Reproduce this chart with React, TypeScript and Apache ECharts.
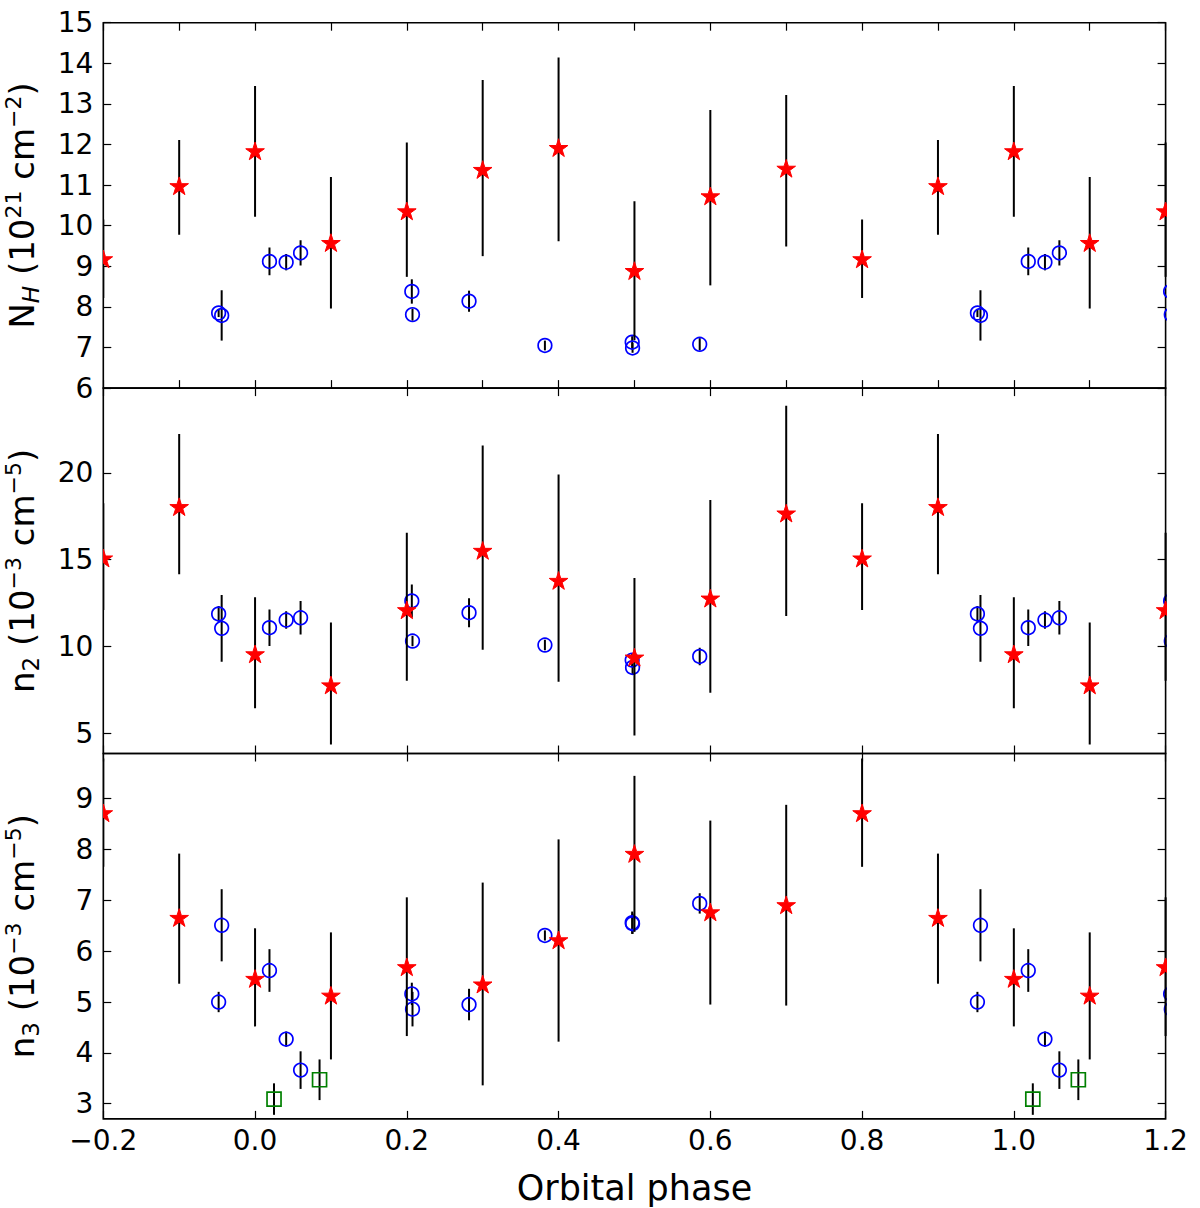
import React, { useEffect, useRef } from "react";
import * as echarts from "echarts";

// ---------- axis ticks ----------
const X_TICKS_FINE = [-0.2, -0.1, 0, 0.1, 0.2, 0.3, 0.4, 0.5, 0.6, 0.7, 0.8, 0.9, 1.0, 1.1, 1.2];
const X_TICKS = [-0.2, 0, 0.2, 0.4, 0.6, 0.8, 1.0, 1.2];
const NH_TICKS = [6, 7, 8, 9, 10, 11, 12, 13, 14, 15];
const N2_TICKS = [5, 10, 15, 20];
const N3_TICKS = [3, 4, 5, 6, 7, 8, 9];

// ---------- red stars (phase 0.0 .. 0.9, repeated every orbit) ----------
const STAR_PHASE = [0.0, 0.1, 0.2, 0.3, 0.4, 0.5, 0.6, 0.7, 0.8, 0.9];
const NH_STAR = [11.84, 9.58, 10.36, 11.38, 11.92, 8.89, 10.73, 11.41, 9.18, 10.98];
const NH_STAR_LO = [10.22, 7.96, 8.74, 9.25, 9.62, 7.18, 8.53, 9.49, 8.22, 9.78];
const NH_STAR_HI = [13.44, 11.2, 12.05, 13.59, 14.14, 10.6, 12.85, 13.22, 10.15, 12.11];
const N2_STAR = [9.56, 7.77, 12.1, 15.52, 13.79, 9.37, 12.77, 17.67, 15.08, 18.04];
const N2_STAR_LO = [6.44, 4.35, 8.02, 9.81, 7.96, 4.87, 7.33, 11.75, 12.1, 14.15];
const N2_STAR_HI = [12.83, 11.37, 16.54, 21.58, 19.9, 13.94, 18.44, 23.87, 18.25, 22.23];
const N3_STAR = [5.46, 5.13, 5.69, 5.35, 6.22, 7.92, 6.77, 6.91, 8.72, 6.66];
const N3_STAR_LO = [4.52, 3.87, 4.33, 3.36, 4.22, 6.38, 4.95, 4.93, 7.66, 5.36];
const N3_STAR_HI = [6.45, 6.37, 7.06, 7.35, 8.2, 9.45, 8.57, 8.88, 9.79, 7.92];

// ---------- blue circles ----------
const CIRC_PHASE = [0.952, 0.956, 0.019, 0.041, 0.06, 0.2066, 0.2075, 0.282, 0.382, 0.497, 0.4975, 0.586];
const NH_CIRC = [7.85, 7.79, 9.12, 9.1, 9.33, 8.38, 7.81, 8.14, 7.05, 7.13, 6.99, 7.08];
const NH_CIRC_ERR = [0.1, 0.62, 0.34, 0.2, 0.31, 0.3, 0.15, 0.26, 0.12, 0.15, 0.12, 0.15];
const N2_CIRC = [11.87, 11.04, 11.08, 11.52, 11.65, 12.62, 10.31, 11.94, 10.08, 9.21, 8.79, 9.42];
const N2_CIRC_ERR = [0.45, 1.92, 1.05, 0.5, 0.97, 0.95, 0.3, 0.83, 0.3, 0.4, 0.4, 0.5];
const N3_CIRC = [5.0, 6.51, 5.62, 4.27, 3.66, 5.16, 4.86, 4.95, 6.31, 6.56, 6.54, 6.94];
const N3_CIRC_ERR = [0.2, 0.71, 0.42, 0.15, 0.37, 0.22, 0.34, 0.31, 0.1, 0.22, 0.2, 0.2];

// ---------- green squares (bottom panel only) ----------
const SQ_PHASE = [0.025, 0.085];
const N3_SQ = [3.09, 3.47];
const N3_SQ_ERR = [0.31, 0.4];

const FONT = "DejaVu Sans";
const MINUS = "\u2212";

type Row = [number, number, number, number];

// copy each orbit-phase point one orbit earlier and later (as in the original plot)
function periodic(ph: number[], y: number[], lo: number[], hi: number[]): Row[] {
  const out: Row[] = [];
  for (const shift of [-1, 0, 1]) {
    ph.forEach((p, i) => {
      const x = p + shift;
      if (x >= -0.26 && x <= 1.26) out.push([x, y[i], lo[i], hi[i]]);
    });
  }
  return out;
}
function symErr(y: number[], e: number[]) {
  return { lo: y.map((v, i) => v - e[i]), hi: y.map((v, i) => v + e[i]) };
}

const GRID_LEFT = 103.3;
const GRID_WIDTH = 1062.3;
const GRID_TOPS = [22.7, 388.1, 753.5];
const GRID_H = 365.4;

function errSeries(gi: number, rows: Row[]) {
  return {
    type: "custom",
    xAxisIndex: gi * 2,
    yAxisIndex: gi * 2,
    clip: true,
    silent: true,
    dimensions: ["x", "y", "lo", "hi"],
    encode: { x: 0, y: 1 },
    data: rows,
    renderItem: (_p: any, api: any) => {
      const x = api.value(0);
      const a = api.coord([x, api.value(2)]);
      const b = api.coord([x, api.value(3)]);
      return {
        type: "line",
        shape: { x1: a[0], y1: a[1], x2: b[0], y2: b[1] },
        style: { stroke: "#000", lineWidth: 2 },
      };
    },
  };
}

function markerSeries(gi: number, rows: Row[], kind: "star" | "circle" | "square") {
  return {
    type: "custom",
    xAxisIndex: gi * 2,
    yAxisIndex: gi * 2,
    clip: true,
    silent: true,
    dimensions: ["x", "y", "lo", "hi"],
    encode: { x: 0, y: 1 },
    data: rows,
    renderItem: (_p: any, api: any) => {
      const c = api.coord([api.value(0), api.value(1)]);
      if (kind === "circle") {
        return {
          type: "circle",
          shape: { cx: c[0], cy: c[1], r: 6.8 },
          style: { fill: "none", stroke: "#0000ff", lineWidth: 1.7 },
        };
      }
      if (kind === "square") {
        return {
          type: "rect",
          shape: { x: c[0] - 7, y: c[1] - 7, width: 14, height: 14 },
          style: { fill: "none", stroke: "#008000", lineWidth: 1.7 },
        };
      }
      const R = 9.8;
      const r = R * 0.382;
      const pts: number[][] = [];
      for (let k = 0; k < 10; k++) {
        const ang = -Math.PI / 2 + (k * Math.PI) / 5;
        const rad = k % 2 === 0 ? R : r;
        pts.push([c[0] + rad * Math.cos(ang), c[1] + rad * Math.sin(ang) + 0.8]);
      }
      return {
        type: "polygon",
        shape: { points: pts },
        style: { fill: "#ff0000", stroke: "#ff0000", lineWidth: 1 },
      };
    },
  };
}

const fmtX = (v: number) => {
  const s = (Math.round(v * 10) / 10).toFixed(1);
  return s.startsWith("-") ? MINUS + s.slice(1) : s;
};

const richTitle = {
  m: { fontSize: 34, fontFamily: FONT, color: "#000", lineHeight: 34, verticalAlign: "middle" },
  sub: { fontSize: 23, fontFamily: FONT, color: "#000", lineHeight: 20, verticalAlign: "bottom" },
  subi: { fontSize: 23, fontFamily: FONT, fontStyle: "italic", color: "#000", lineHeight: 20, verticalAlign: "bottom" },
  sup: { fontSize: 22, fontFamily: FONT, color: "#000", lineHeight: 22, verticalAlign: "top" },
  pad: { fontSize: 10, lineHeight: 40, verticalAlign: "middle" },
};

const Y_TITLES = [
  "{pad|}{m|N}{subi|H}{m| (10}{sup|21}{m| cm}{sup|" + MINUS + "2}{m|)}",
  "{pad|}{m|n}{sub|2}{m| (10}{sup|" + MINUS + "3}{m| cm}{sup|" + MINUS + "5}{m|)}",
  "{pad|}{m|n}{sub|3}{m| (10}{sup|" + MINUS + "3}{m| cm}{sup|" + MINUS + "5}{m|)}",
];
const Y_RANGES = [
  [6, 15],
  [3.83, 24.88],
  [2.7, 9.89],
];
const Y_TICKS = [NH_TICKS, N2_TICKS, N3_TICKS];

export default function App() {
  const ref = useRef<HTMLDivElement>(null);
  useEffect(() => {
    if (!ref.current) return;
    const prevMargin = document.body.style.margin;
    document.body.style.margin = "0";
    const chart = echarts.init(ref.current, undefined, { renderer: "svg" });

    const grids = GRID_TOPS.map((t) => ({
      left: GRID_LEFT,
      top: t,
      width: GRID_WIDTH,
      height: GRID_H,
      show: true,
      borderColor: "#000",
      borderWidth: 1.6,
      backgroundColor: "transparent",
      containLabel: false,
      outerBoundsMode: "none",
    }));

    const xAxes: any[] = [];
    const yAxes: any[] = [];
    for (let gi = 0; gi < 3; gi++) {
      const ticks = gi === 0 ? X_TICKS_FINE : X_TICKS;
      for (const pos of ["bottom", "top"]) {
        const isLabelled = gi === 2 && pos === "bottom";
        xAxes.push({
          type: "value",
          gridIndex: gi,
          position: pos,
          min: -0.2,
          max: 1.2,
          axisLine: { show: false, onZero: false },
          splitLine: { show: false },
          axisTick: {
            show: true,
            inside: true,
            length: 8,
            customValues: ticks,
            lineStyle: { color: "#000", width: 1.2 },
          },
          axisLabel: {
            show: isLabelled,
            customValues: X_TICKS,
            formatter: fmtX,
            fontSize: 28,
            fontFamily: FONT,
            color: "#000",
            margin: 8,
          },
          name: isLabelled ? "Orbital phase" : "",
          nameLocation: "middle",
          nameGap: 50,
          nameTextStyle: { fontSize: 35, fontFamily: FONT, color: "#000", lineHeight: 38 },
        });
      }
      for (const pos of ["left", "right"]) {
        const isLabelled = pos === "left";
        yAxes.push({
          type: "value",
          gridIndex: gi,
          position: pos,
          min: Y_RANGES[gi][0],
          max: Y_RANGES[gi][1],
          axisLine: { show: false, onZero: false },
          splitLine: { show: false },
          axisTick: {
            show: true,
            inside: true,
            length: 8,
            customValues: Y_TICKS[gi],
            lineStyle: { color: "#000", width: 1.2 },
          },
          axisLabel: {
            show: isLabelled,
            customValues: Y_TICKS[gi],
            formatter: (v: number) => String(Math.round(v)),
            fontSize: 28,
            fontFamily: FONT,
            color: "#000",
            margin: 10,
          },
          name: isLabelled ? Y_TITLES[gi] : "",
          nameLocation: "middle",
          nameRotate: 90,
          nameGap: 61,
          nameTextStyle: { rich: richTitle },
        });
      }
    }

    const nhC = symErr(NH_CIRC, NH_CIRC_ERR);
    const n2C = symErr(N2_CIRC, N2_CIRC_ERR);
    const n3C = symErr(N3_CIRC, N3_CIRC_ERR);
    const n3S = symErr(N3_SQ, N3_SQ_ERR);

    const panels = [
      {
        stars: periodic(STAR_PHASE, NH_STAR, NH_STAR_LO, NH_STAR_HI),
        circs: periodic(CIRC_PHASE, NH_CIRC, nhC.lo, nhC.hi),
        squares: [] as Row[],
      },
      {
        stars: periodic(STAR_PHASE, N2_STAR, N2_STAR_LO, N2_STAR_HI),
        circs: periodic(CIRC_PHASE, N2_CIRC, n2C.lo, n2C.hi),
        squares: [] as Row[],
      },
      {
        stars: periodic(STAR_PHASE, N3_STAR, N3_STAR_LO, N3_STAR_HI),
        circs: periodic(CIRC_PHASE, N3_CIRC, n3C.lo, n3C.hi),
        squares: periodic(SQ_PHASE, N3_SQ, n3S.lo, n3S.hi),
      },
    ];

    const series: any[] = [];
    panels.forEach((p, gi) => {
      series.push(errSeries(gi, [...p.circs, ...p.squares]));
      series.push(markerSeries(gi, p.circs, "circle"));
      if (p.squares.length) series.push(markerSeries(gi, p.squares, "square"));
      series.push(errSeries(gi, p.stars));
      series.push(markerSeries(gi, p.stars, "star"));
    });

    chart.setOption({
      animation: false,
      backgroundColor: "#fff",
      textStyle: { fontFamily: FONT },
      grid: grids,
      xAxis: xAxes,
      yAxis: yAxes,
      series,
    });
    return () => {
      chart.dispose();
      document.body.style.margin = prevMargin;
    };
  }, []);
  return <div ref={ref} style={{ width: 1200, height: 1208 }} />;
}
